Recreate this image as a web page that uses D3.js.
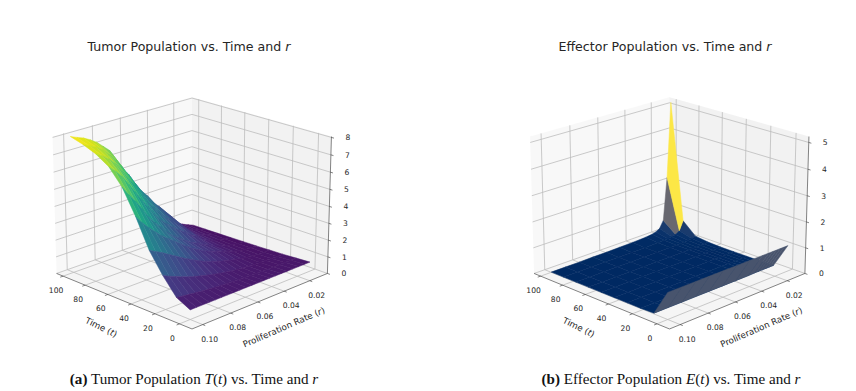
<!doctype html>
<html lang="en">
<head>
  <meta charset="utf-8">
  <title>Tumor and effector surfaces</title>
  <style>
  body { margin: 0; background: #fff; }
  svg { display: block; }
  text { font-family: "DejaVu Sans", sans-serif; fill: #262626; }
  .caption { font-family: "Liberation Serif", serif; fill: #111; font-size: 15.1px; }
  </style>
</head>
<body>
  <div id="chart"></div>
  <script src="https://cdn.jsdelivr.net/npm/d3@7"></script>
  <script>
    // time grid, shared by both surfaces
    var timeValues = [0, 11.11, 22.22, 33.33, 44.44, 55.56, 66.67, 77.78, 88.89, 100];

    // tumor surface, one row per time value
    var tumorRates = [0.01, 0.0145, 0.019, 0.0235, 0.028, 0.0325, 0.037, 0.0415, 0.046, 0.0505, 0.055,
                      0.0595, 0.064, 0.0685, 0.073, 0.0775, 0.082, 0.0865, 0.091, 0.0955, 0.1];
    var tumorValues = [
      [.55,.55,.55,.55,.55,.55,.55,.55,.55,.55,.55,.55,.55,.55,.55,.55,.55,.55,.55,.55,.55],
      [.50,.50,.50,.50,.50,.51,.52,.53,.54,.55,.57,.59,.61,.64,.67,.71,.75,.79,.84,.89,.95],
      [.45,.45,.45,.46,.48,.50,.53,.56,.60,.65,.71,.78,.86,.95,1.05,1.15,1.27,1.41,1.56,1.72,1.90],
      [.42,.42,.43,.46,.50,.57,.66,.73,.83,.93,1.06,1.20,1.37,1.56,1.76,1.97,2.20,2.42,2.65,2.85,3.05],
      [.39,.40,.43,.48,.57,.69,.85,.97,1.12,1.28,1.48,1.70,1.95,2.23,2.53,2.80,3.10,3.45,3.82,4.22,4.70],
      [.37,.38,.44,.52,.62,.76,.95,1.11,1.33,1.50,1.76,2.02,2.29,2.62,3.07,3.46,3.92,4.52,5.07,5.55,6.10],
      [.35,.38,.47,.56,.73,.91,1.22,1.42,1.74,1.98,2.29,2.61,2.98,3.44,4.00,4.52,5.08,5.66,6.22,6.64,7.00],
      [.33,.40,.50,.63,.84,1.12,1.53,1.81,2.17,2.46,2.87,3.30,3.73,4.32,5.00,5.48,6.07,6.60,6.97,7.26,7.48],
      [.31,.41,.55,.72,1.00,1.36,1.88,2.20,2.62,3.00,3.50,4.00,4.58,5.16,5.83,6.33,6.77,7.16,7.42,7.60,7.78],
      [.30,.45,.62,.83,1.20,1.64,2.24,2.60,3.16,3.58,4.16,4.80,5.28,5.92,6.55,6.90,7.24,7.49,7.70,7.84,8.00]
    ];

    // effector surface, one row per time value
    var effectorRates = [0.01, 0.013, 0.016, 0.019, 0.022, 0.025, 0.03, 0.04, 0.05, 0.06, 0.07, 0.08, 0.09, 0.1];
    var effectorValues = [
      [1.00,1.00,1.00,1.00,1.00,1.00,1.00,1.00,1.00,1.00,1.00,1.00,1.00,1.00],
      [.04,.04,.04,.04,.04,.04,.03,.03,.03,.03,.03,.03,.03,.03],
      [.02,.02,.02,.02,.02,.02,.02,.01,.01,.01,.01,.01,.01,.01],
      [.02,.02,.02,.01,.01,.01,.01,.01,.01,.01,.01,.01,.01,.01],
      [.02,.02,.01,.01,.01,.01,.01,.01,.01,.01,.01,.01,.01,.01],
      [.02,.02,.01,.01,.01,.01,.01,.01,.01,.01,.01,.01,.01,.01],
      [.04,.02,.02,.01,.01,.01,.01,.01,.01,.01,.01,.01,.01,.01],
      [.10,.06,.03,.02,.02,.01,.01,.01,.01,.01,.01,.01,.01,.01],
      [.55,.20,.10,.06,.04,.03,.02,.01,.01,.01,.01,.01,.01,.01],
      [5.15,2.20,.50,.22,.13,.09,.06,.04,.03,.02,.02,.01,.01,.01]
    ];

    var timeTicks = [0, 20, 40, 60, 80, 100];
    var rateTicks = [0.02, 0.04, 0.06, 0.08, 0.10];
    var tumorTicks = [0, 1, 2, 3, 4, 5, 6, 7, 8];
    var effectorTicks = [0, 1, 2, 3, 4, 5];

    var width = 856, height = 391;
    var elev = 20 * Math.PI / 180, azim = 135 * Math.PI / 180, dist = 10;
    var boxX = 1.143, boxY = 1.143, boxZ = 0.857;
    var focal = 1700;

    var svg = d3.select("#chart").append("svg")
        .attr("width", width)
        .attr("height", height);

    function dot(a, b) { return a[0]*b[0] + a[1]*b[1] + a[2]*b[2]; }
    function cross(a, b) { return [a[1]*b[2]-a[2]*b[1], a[2]*b[0]-a[0]*b[2], a[0]*b[1]-a[1]*b[0]]; }
    function unit(a) { var n = Math.sqrt(dot(a, a)); return [a[0]/n, a[1]/n, a[2]/n]; }

    // camera looking at the middle of the box
    var w = [Math.cos(elev)*Math.cos(azim), Math.cos(elev)*Math.sin(azim), Math.sin(elev)];
    var u = unit(cross([0, 0, 1], w));
    var v = cross(w, u);

    function drawPanel(cfg) {
      var g = svg.append("g");

      var xs = d3.scaleLinear().domain([-10, 106]).range([0, boxX]);
      var ys = d3.scaleLinear().domain([0.0058, 0.1075]).range([0, boxY]);
      var zs = d3.scaleLinear().domain(cfg.zDomain).range([0, boxZ]);

      function project(t, r, z) {
        var p = [xs(t) - boxX/2, ys(r) - boxY/2, zs(z) - boxZ/2];
        var depth = dist - dot(p, w);
        return {
          x: cfg.cx + focal * dot(p, u) / depth,
          y: cfg.cy - focal * dot(p, v) / depth,
          depth: depth
        };
      }

      var tMin = xs.domain()[0], tMax = xs.domain()[1];
      var rMin = ys.domain()[0], rMax = ys.domain()[1];
      var zMin = zs.domain()[0], zMax = zs.domain()[1];

      function poly(points) {
        return "M" + points.map(function(p) {
          var q = project(p[0], p[1], p[2]);
          return q.x.toFixed(2) + "," + q.y.toFixed(2);
        }).join("L") + "Z";
      }
      function seg(a, b, color, lw) {
        var p = project(a[0], a[1], a[2]), q = project(b[0], b[1], b[2]);
        g.append("line").attr("x1", p.x).attr("y1", p.y).attr("x2", q.x).attr("y2", q.y)
          .attr("stroke", color).attr("stroke-width", lw);
      }

      // back walls and floor
      g.append("path").attr("fill", "#f2f2f2").attr("fill-opacity", 0.5)
        .attr("d", poly([[tMax,rMin,zMin],[tMax,rMax,zMin],[tMax,rMax,zMax],[tMax,rMin,zMax]]));
      g.append("path").attr("fill", "#e6e6e6").attr("fill-opacity", 0.5)
        .attr("d", poly([[tMin,rMin,zMin],[tMax,rMin,zMin],[tMax,rMin,zMax],[tMin,rMin,zMax]]));
      g.append("path").attr("fill", "#ececec").attr("fill-opacity", 0.5)
        .attr("d", poly([[tMin,rMin,zMin],[tMax,rMin,zMin],[tMax,rMax,zMin],[tMin,rMax,zMin]]));

      // grid lines
      timeTicks.forEach(function(t) {
        seg([t,rMax,zMin],[t,rMin,zMin],"#bdbdbd",0.8);
        seg([t,rMin,zMin],[t,rMin,zMax],"#bdbdbd",0.8);
      });
      rateTicks.forEach(function(r) {
        seg([tMin,r,zMin],[tMax,r,zMin],"#bdbdbd",0.8);
        seg([tMax,r,zMin],[tMax,r,zMax],"#bdbdbd",0.8);
      });
      cfg.zTicks.forEach(function(z) {
        seg([tMax,rMax,z],[tMax,rMin,z],"#bdbdbd",0.8);
        seg([tMax,rMin,z],[tMin,rMin,z],"#bdbdbd",0.8);
      });

      // axis lines
      seg([tMax,rMax,zMin],[tMin,rMax,zMin],"#333",0.6);
      seg([tMin,rMax,zMin],[tMin,rMin,zMin],"#333",0.6);
      seg([tMin,rMin,zMin],[tMin,rMin,zMax],"#333",0.6);

      // ticks and labels
      var tickFont = 7.6;
      timeTicks.forEach(function(t) {
        var p = project(t, rMax, zMin), q = project(t, rMax + 0.002, zMin);
        g.append("line").attr("x1", p.x).attr("y1", p.y).attr("x2", q.x).attr("y2", q.y).attr("stroke", "#333").attr("stroke-width", 0.6);
        g.append("text").attr("x", p.x - 7).attr("y", p.y + 17).attr("text-anchor", "middle")
          .attr("font-size", tickFont).text(t);
      });
      rateTicks.forEach(function(r) {
        var p = project(tMin, r, zMin), q = project(tMin - 2, r, zMin);
        g.append("line").attr("x1", p.x).attr("y1", p.y).attr("x2", q.x).attr("y2", q.y).attr("stroke", "#333").attr("stroke-width", 0.6);
        g.append("text").attr("x", p.x + 7).attr("y", p.y + 17).attr("text-anchor", "middle")
          .attr("font-size", tickFont).text(d3.format(".2f")(r));
      });
      cfg.zTicks.forEach(function(z) {
        var p = project(tMin, rMin, z), q = project(tMin - 2, rMin, z);
        g.append("line").attr("x1", p.x).attr("y1", p.y).attr("x2", q.x).attr("y2", q.y).attr("stroke", "#333").attr("stroke-width", 0.6);
        g.append("text").attr("x", p.x + 16.5).attr("y", p.y + 3).attr("text-anchor", "middle")
          .attr("font-size", tickFont).text(z);
      });

      // surface facets, far ones first
      var facets = [];
      for (var j = 0; j < cfg.times.length - 1; j++) {
        for (var i = 0; i < cfg.rates.length - 1; i++) {
          var corners = [
            [cfg.times[j], cfg.rates[i], cfg.values[j][i]],
            [cfg.times[j+1], cfg.rates[i], cfg.values[j+1][i]],
            [cfg.times[j+1], cfg.rates[i+1], cfg.values[j+1][i+1]],
            [cfg.times[j], cfg.rates[i+1], cfg.values[j][i+1]]
          ];
          facets.push({
            corners: corners,
            avg: d3.mean(corners, function(c) { return c[2]; }),
            depth: d3.mean(corners, function(c) { return project(c[0], c[1], c[2]).depth; })
          });
        }
      }
      var color = d3.scaleSequential(cfg.cmap).domain(cfg.colorDomain).clamp(true);
      facets.sort(function(p, q) { return q.depth - p.depth; });

      g.selectAll("path.facet").data(facets).enter().append("path")
        .attr("class", "facet")
        .attr("d", function(f) { return poly(f.corners); })
        .attr("fill", function(f) { return color(f.avg); })
        .attr("stroke", function(f) { return color(f.avg); })
        .attr("stroke-width", 0.5);

      // titles
      var title = g.append("text").attr("x", cfg.titleX).attr("y", 51).attr("text-anchor", "middle").attr("font-size", 12.6);
      title.append("tspan").text(cfg.title + " ");
      title.append("tspan").attr("font-style", "italic").text("r");

      var xl = g.append("text").attr("transform", "translate(" + (cfg.cx - 92) + ",330) rotate(26)")
        .attr("text-anchor", "middle").attr("font-size", 8.7);
      xl.append("tspan").text("Time (");
      xl.append("tspan").attr("font-style", "italic").text("t");
      xl.append("tspan").text(")");

      var yl = g.append("text").attr("transform", "translate(" + (cfg.cx + 93) + ",330) rotate(-23.5)")
        .attr("text-anchor", "middle").attr("font-size", 8.7);
      yl.append("tspan").text("Proliferation Rate (");
      yl.append("tspan").attr("font-style", "italic").text("r");
      yl.append("tspan").text(")");

      var cap = svg.append("text").attr("class", "caption").attr("x", cfg.capX).attr("y", 384).attr("text-anchor", "middle");
      cap.append("tspan").attr("font-weight", "bold").text(cfg.capTag);
      cap.append("tspan").text(" " + cfg.capText + " ");
      cap.append("tspan").attr("font-style", "italic").text(cfg.capSym);
      cap.append("tspan").text("(");
      cap.append("tspan").attr("font-style", "italic").text("t");
      cap.append("tspan").text(") vs. Time and ");
      cap.append("tspan").attr("font-style", "italic").text("r");
    }

    drawPanel({
      cx: 192, cy: 206, times: timeValues, rates: tumorRates, values: tumorValues,
      zDomain: [0, 8.05], zTicks: tumorTicks, cmap: d3.interpolateViridis, colorDomain: [0, 8],
      title: "Tumor Population vs. Time and", titleX: 189,
      capTag: "(a)", capText: "Tumor Population", capSym: "T", capX: 194
    });
    drawPanel({
      cx: 669.5, cy: 206, times: timeValues, rates: effectorRates, values: effectorValues,
      zDomain: [0, 5.22], zTicks: effectorTicks, cmap: d3.interpolateCividis, colorDomain: [-0.1, 2.05],
      title: "Effector Population vs. Time and", titleX: 665,
      capTag: "(b)", capText: "Effector Population", capSym: "E", capX: 671
    });
  </script>
</body>
</html>
